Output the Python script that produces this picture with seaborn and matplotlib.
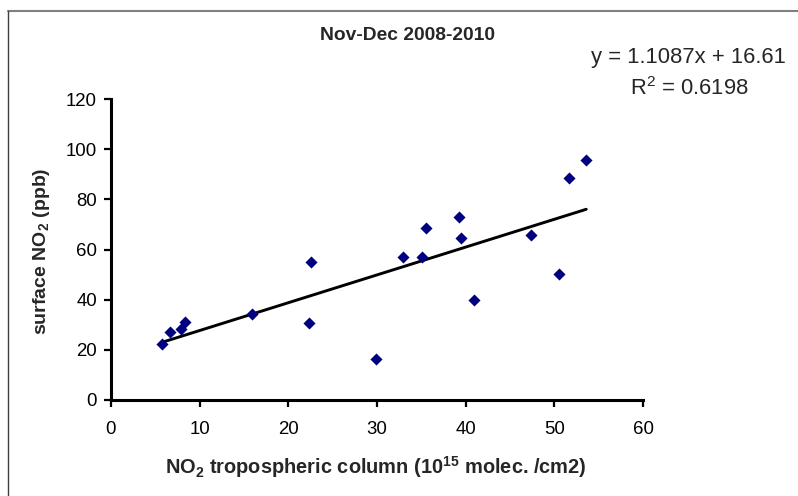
import numpy as np
import pandas as pd
import seaborn as sns
import matplotlib.pyplot as plt
from matplotlib.lines import Line2D

# values
no2_column = [5.7, 6.65, 7.9, 8.4, 15.9, 22.3, 22.6, 29.9, 32.9, 35.1,
              35.5, 39.3, 39.5, 40.9, 47.4, 50.5, 51.6, 53.6]
surface_no2 = [22.2, 27.0, 28.2, 31.2, 34.3, 30.6, 55.2, 16.5, 57.2, 57.2,
               68.7, 73.0, 64.4, 39.8, 65.7, 50.3, 88.4, 95.7]
slope = 1.1087
intercept = 16.61
r_squared = 0.6198
x_ticks = [0, 10, 20, 30, 40, 50, 60]
y_ticks = [0, 20, 40, 60, 80, 100, 120]

df = pd.DataFrame({'col': no2_column, 'surf': surface_no2})

sns.set_style('ticks')
plt.rcParams['font.family'] = ['Liberation Sans', 'DejaVu Sans']
plt.rcParams.update({'mathtext.fontset': 'custom',
                     'mathtext.rm': 'Liberation Sans',
                     'mathtext.bf': 'Liberation Sans:bold',
                     'mathtext.default': 'regular'})

fig = plt.figure(figsize=(7.98, 4.96), dpi=100)
ax = fig.add_axes([111 / 798, 1 - 400 / 496, 532 / 798, 301 / 496])

# scatter of the points
sns.scatterplot(data=df, x='col', y='surf', ax=ax, marker='D', s=38,
                color='#000080', linewidth=0, zorder=3)

# linear trend line
trend_x = np.array([min(no2_column), max(no2_column)])
trend = pd.DataFrame({'x': trend_x, 'y': slope * trend_x + intercept})
sns.lineplot(data=trend, x='x', y='y', ax=ax, color='black', linewidth=2.1, zorder=2)

ax.set_xlim(0, 60)
ax.set_ylim(0, 120)
ax.set_xticks(x_ticks)
ax.set_yticks(y_ticks)
ax.set_xlabel('')
ax.set_ylabel('')
sns.despine(ax=ax)
for side in ['left', 'bottom']:
    ax.spines[side].set_linewidth(2.2)
    ax.spines[side].set_color('black')
ax.tick_params(direction='out', length=5, width=1.6, labelsize=13.4, colors='black')
ax.tick_params(axis='x', pad=10)
ax.tick_params(axis='y', pad=5)

# texts
fig.text(408 / 798, 1 - 36 / 496, 'Nov-Dec 2008-2010', ha='center', va='center',
         fontsize=13.9, fontweight='bold')
fig.text(688 / 798, 1 - 57 / 496, 'y = %.4fx + %.2f' % (slope, intercept),
         ha='center', va='center', fontsize=15.8)
fig.text(689 / 798, 1 - 89 / 496, 'R$^2$ = %.4f' % r_squared,
         ha='center', va='center', fontsize=15.8)
fig.text(376 / 798, 1 - 474 / 496, 'NO$_2$ tropospheric column (10$^{15}$ molec. /cm2)',
         ha='center', va='baseline', fontsize=14.4, fontweight='bold')
fig.text(42 / 798, 1 - 251 / 496, 'surface NO$_2$ (ppb)', ha='center', va='center',
         rotation=90, fontsize=14, fontweight='bold')

# chart frame (only top and left show)
fig.add_artist(Line2D([8 / 798, 1.0], [1 - 10.5 / 496] * 2, transform=fig.transFigure,
                      color='#7f7f7f', linewidth=1.5))
fig.add_artist(Line2D([8 / 798] * 2, [0.0, 1 - 10.5 / 496], transform=fig.transFigure,
                      color='#404040', linewidth=1.0))

fig.savefig('out.png', dpi=100)
